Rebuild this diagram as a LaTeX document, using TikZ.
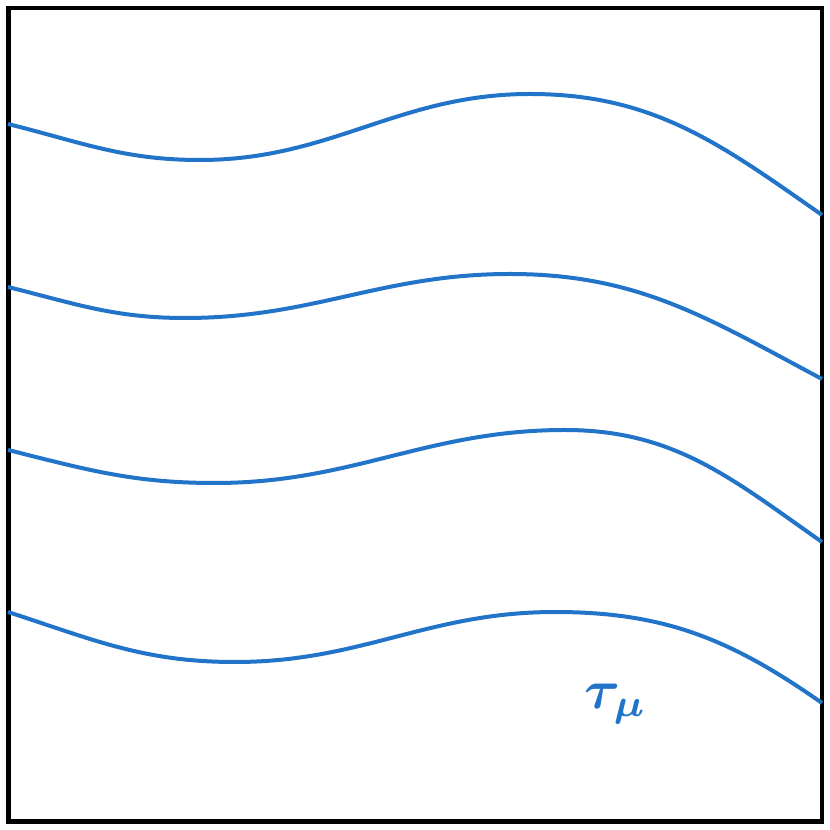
\documentclass[tikz,border=0pt]{standalone}
\definecolor{wave}{RGB}{34,116,200}
\tikzset{
  frame/.style={draw=black, line width=4.5pt},
  waveline/.style={draw=wave, line width=4pt},
  lbl/.style={text=wave, inner sep=0pt, scale=5.5, font=\boldmath}
}
\begin{document}
\begin{tikzpicture}[x=1pt,y=1pt]
\useasboundingbox (0,0) rectangle (830,830);
\draw[frame] (8.5,8.5) rectangle (822,822);
% curves (y measured upward)
\draw[waveline] (8,706) to[out=-14,in=180] (200,670) to[out=0,in=180] (530,736) to[out=0,in=145] (822,615);
\draw[waveline] (8,543) to[out=-14,in=180] (185,512) to[out=0,in=180] (510,556) to[out=0,in=152] (822,451);
\draw[waveline] (8,380) to[out=-14,in=180] (215,347) to[out=0,in=180] (565,400) to[out=0,in=145] (822,288);
\draw[waveline] (8,218) to[out=-18,in=180] (235,168) to[out=0,in=180] (555,218) to[out=0,in=145] (822,127);
\node[lbl] (tau) at (616,126) {$\tau_\mu$};
\end{tikzpicture}
\end{document}
